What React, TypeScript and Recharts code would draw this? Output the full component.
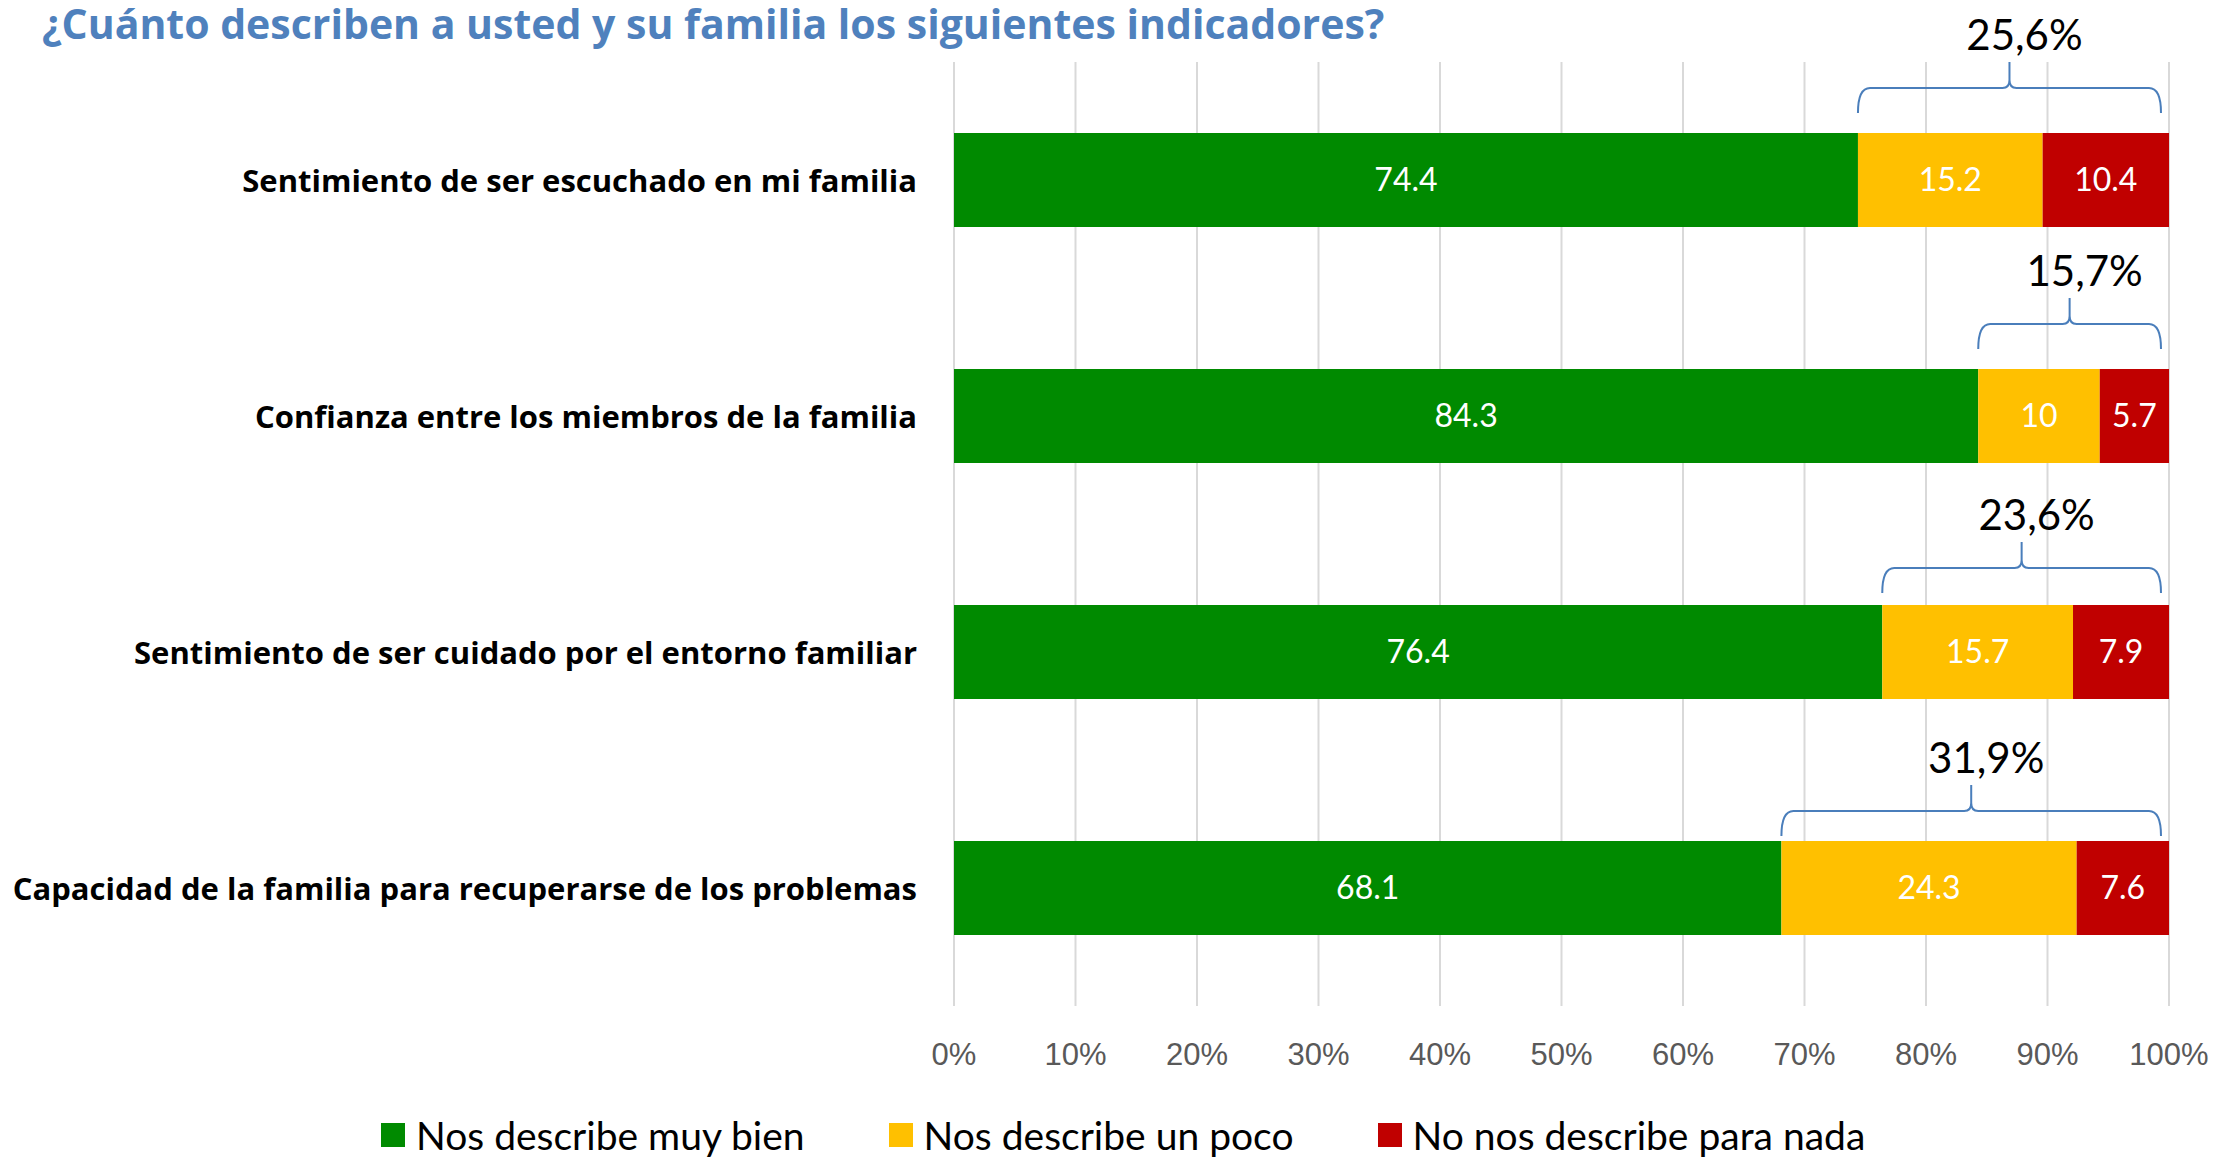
import { BarChart, Bar, XAxis, YAxis, CartesianGrid, Legend, LabelList } from 'recharts'

const categories = [
  'Sentimiento de ser escuchado en mi familia',
  'Confianza entre los miembros de la familia',
  'Sentimiento de ser cuidado por el entorno familiar',
  'Capacidad de la familia para recuperarse de los problemas',
]
const muyBien = [74.4, 84.3, 76.4, 68.1]
const unPoco = [15.2, 10, 15.7, 24.3]
const nada = [10.4, 5.7, 7.9, 7.6]
const braceLabels = ['25,6%', '15,7%', '23,6%', '31,9%']
const xTicks = [0, 10, 20, 30, 40, 50, 60, 70, 80, 90, 100]

const seriesNames = ['Nos describe muy bien', 'Nos describe un poco', 'No nos describe para nada']

// vertical lift of each brace above its bar (px)
const braceOffsets = [-45, -45, -37, -30]

const GREEN = '#008A00'
const YELLOW = '#FFC000'
const RED = '#C00000'
const BRACE = '#4A7EBB'
const seriesColors = [GREEN, YELLOW, RED]

const data = categories.map((name, i) => ({
  name,
  muyBien: muyBien[i],
  unPoco: unPoco[i],
  nada: nada[i],
}))

const renderBrace = (props: any) => {
  const vb = props.viewBox ?? props
  const x = Number(vb.x)
  const y = Number(vb.y)
  const width = Number(vb.width)
  const i = props.index
  const scale = width / nada[i]
  const xl = x - unPoco[i] * scale
  const xr = x + width - 8
  const c = (xl + xr) / 2
  const h = y + braceOffsets[i]
  const yEnd = h + 25
  const yTip = h - 26
  const d =
    `M${xl},${yEnd} Q${xl},${h} ${xl + 12},${h} L${c - 7},${h} Q${c},${h} ${c},${h - 8} L${c},${yTip} ` +
    `M${c},${h - 8} Q${c},${h} ${c + 7},${h} L${xr - 12},${h} Q${xr},${h} ${xr},${yEnd}`
  return (
    <g>
      <path d={d} fill="none" stroke={BRACE} strokeWidth={2} />
      <text x={c + 15} y={yTip - 28} textAnchor="middle" dominantBaseline="central" fontFamily="Lato" fontSize={42} fill="#000">
        {braceLabels[i]}
      </text>
    </g>
  )
}

const renderLegend = () => (
  <div style={{ display: 'flex', alignItems: 'center', height: 48, paddingLeft: 381 }}>
    {seriesNames.map((name, i) => (
      <div key={name} style={{ display: 'flex', alignItems: 'center', marginRight: 84 }}>
        <div style={{ width: 24, height: 24, background: seriesColors[i], marginRight: 11 }} />
        <span style={{ fontFamily: 'Lato', fontSize: 39, color: '#000', whiteSpace: 'nowrap' }}>{name}</span>
      </div>
    ))}
  </div>
)

const App = () => {
  return (
    <div style={{ position: 'absolute', left: 0, top: 0, width: 2218, height: 1160, background: '#fff' }}>
      <div
        style={{
          position: 'absolute',
          left: 42,
          top: 3,
          fontFamily: 'Open Sans',
          fontWeight: 700,
          fontSize: 41,
          lineHeight: '41px',
          color: '#4F81BD',
          whiteSpace: 'nowrap',
        }}
      >
        ¿Cuánto describen a usted y su familia los siguientes indicadores?
      </div>
      <BarChart
        width={2218}
        height={1160}
        data={data}
        layout="vertical"
        margin={{ top: 62, right: 49, bottom: 94, left: 0 }}
        barSize={94}
      >
        <CartesianGrid horizontal={false} stroke="#D9D9D9" strokeWidth={2} />
        <XAxis
          type="number"
          domain={[0, 100]}
          ticks={xTicks}
          height={60}
          axisLine={false}
          tickLine={false}
          tickSize={0}
          tickMargin={0}
          interval={0}
          tick={({ x, y, payload }: any) => (
            <text x={x} y={y + 48} textAnchor="middle" dominantBaseline="central" fontFamily="Liberation Sans, Arial" fontSize={31} fill="#595959">
              {payload.value}%
            </text>
          )}
        />
        <YAxis
          type="category"
          dataKey="name"
          width={954}
          axisLine={false}
          tickLine={false}
          tickSize={0}
          tickMargin={0}
          interval={0}
          tick={({ x, y, payload }: any) => (
            <text x={x - 37} y={y} textAnchor="end" dominantBaseline="central" fontFamily="Open Sans" fontWeight={700} fontSize={31} fill="#000">
              {payload.value}
            </text>
          )}
        />
        <Legend
          layout="horizontal"
          verticalAlign="middle"
          align="center"
          wrapperStyle={{ top: 1111, left: 0, width: 2218, height: 48 }}
          content={renderLegend}
        />
        <Bar dataKey="muyBien" name={seriesNames[0]} stackId="a" fill={GREEN} isAnimationActive={false}>
          <LabelList dataKey="muyBien" position="center" fill="#fff" fontSize={32} fontFamily="Lato" />
        </Bar>
        <Bar dataKey="unPoco" name={seriesNames[1]} stackId="a" fill={YELLOW} isAnimationActive={false}>
          <LabelList dataKey="unPoco" position="center" fill="#fff" fontSize={32} fontFamily="Lato" />
        </Bar>
        <Bar dataKey="nada" name={seriesNames[2]} stackId="a" fill={RED} isAnimationActive={false}>
          <LabelList dataKey="nada" position="center" fill="#fff" fontSize={32} fontFamily="Lato" />
          <LabelList dataKey="nada" content={renderBrace} />
        </Bar>
      </BarChart>
    </div>
  )
}

export default App
